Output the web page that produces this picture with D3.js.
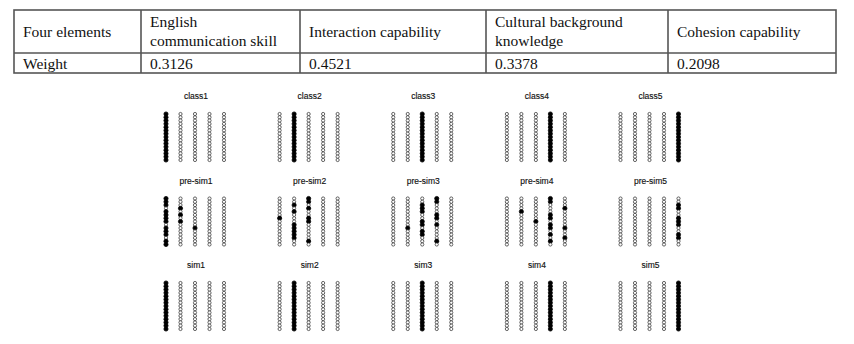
<!DOCTYPE html>
<html><head><meta charset="utf-8">
<script src="https://cdn.jsdelivr.net/npm/d3@7"></script>
<style>html,body{margin:0;padding:0;background:#fff;}svg{display:block;}
.tt{font-family:"Liberation Serif","Times New Roman",Times,serif;font-size:15.5px;fill:#111;}
.pt{font-family:"Liberation Sans",Arial,sans-serif;font-size:8.5px;fill:#111;stroke:#111;stroke-width:0.15px;}
</style>
</head><body>
<script>
// ---- data ----
const tableHeader = [["Four elements"], ["English", "communication skill"], ["Interaction capability"], ["Cultural background", "knowledge"], ["Cohesion capability"]];
const tableRow = ["Weight", "0.3126", "0.4521", "0.3378", "0.2098"];

const classTitles = ["class1", "class2", "class3", "class4", "class5"];
const preSimTitles = ["pre-sim1", "pre-sim2", "pre-sim3", "pre-sim4", "pre-sim5"];
const simTitles = ["sim1", "sim2", "sim3", "sim4", "sim5"];
const nUnits = 15;
const nCols = 5;
// filled column index for class / sim panels (whole column filled)
const classFilledCol = [0, 1, 2, 3, 4];
const simFilledCol = [0, 1, 2, 3, 4];
// filled unit indices per column for pre-sim panels
const preSim1 = [[0,1,2,4,5,6,7,9,10,11,13,14], [3,5,7], [9], [], []];
const preSim2 = [[6], [2,4,8,9,10,11,12], [0,1,3,6,7,13], [], []];
const preSim3 = [[], [9], [2,3,4,7,8,10,11], [0,1,5,6,8,13], []];
const preSim4 = [[], [4], [7], [0,1,5,6,8,9,11,13], [3,9,12]];
const preSim5 = [[], [], [], [], [2,3,6,7,8,11,12]];
const preSimFilled = [preSim1, preSim2, preSim3, preSim4, preSim5];

// ---- build ----
const W = 854, H = 344;
const svg = d3.select("body").append("svg").attr("width", W).attr("height", H);

// table
const colEdges = [14, 141, 300, 486, 668, 836];
const rowEdges = [10, 53, 73];
const tg = svg.append("g");
const lineColor = "#555", lineW = 1.6;
tg.append("rect").attr("x", colEdges[0]).attr("y", rowEdges[0])
  .attr("width", colEdges[5]-colEdges[0]).attr("height", rowEdges[2]-rowEdges[0])
  .attr("fill", "none").attr("stroke", lineColor).attr("stroke-width", lineW);
tg.selectAll("line.v").data(colEdges.slice(1, -1)).join("line")
  .attr("x1", d => d).attr("x2", d => d).attr("y1", rowEdges[0]).attr("y2", rowEdges[2])
  .attr("stroke", lineColor).attr("stroke-width", lineW);
tg.append("line").attr("x1", colEdges[0]).attr("x2", colEdges[5]).attr("y1", rowEdges[1]).attr("y2", rowEdges[1])
  .attr("stroke", lineColor).attr("stroke-width", lineW);
tableHeader.forEach((lines, i) => {
  const cy = (rowEdges[0] + rowEdges[1]) / 2;
  const lh = 19;
  lines.forEach((t, j) => {
    tg.append("text").attr("class", "tt").attr("x", colEdges[i] + 9)
      .attr("y", cy + (j - (lines.length - 1) / 2) * lh)
      .attr("dy", "0.35em").text(t);
  });
});
tableRow.forEach((t, i) => {
  tg.append("text").attr("class", "tt").attr("x", colEdges[i] + 9).attr("y", (rowEdges[1] + rowEdges[2]) / 2 + 1)
    .attr("dy", "0.35em").text(t);
});

// panels
const panelX = d3.scalePoint().domain(d3.range(5)).range([195, 649.5]);
const rowY = d3.scalePoint().domain(d3.range(3)).range([114, 283]);
const colX = d3.scalePoint().domain(d3.range(nCols)).range([-29, 29]);
const unitY = d3.scaleLinear().domain([0, nUnits - 1]).range([0, 46]);

const rows = [
  {titles: classTitles, filled: classFilledCol.map(c => d3.range(nCols).map(k => k === c ? d3.range(nUnits) : []))},
  {titles: preSimTitles, filled: preSimFilled},
  {titles: simTitles, filled: simFilledCol.map(c => d3.range(nCols).map(k => k === c ? d3.range(nUnits) : []))}
];

rows.forEach((row, r) => {
  row.titles.forEach((title, p) => {
    const g = svg.append("g").attr("transform", `translate(${panelX(p)},${rowY(r)})`);
    g.append("text").attr("class", "pt").attr("x", 1).attr("y", -15).attr("text-anchor", "middle").text(title);
    const cells = [];
    for (let c = 0; c < nCols; c++) {
      const f = new Set(row.filled[p][c]);
      for (let u = 0; u < nUnits; u++) cells.push({c, u, on: f.has(u)});
    }
    g.selectAll("circle").data(cells).join("circle")
      .attr("cx", d => colX(d.c)).attr("cy", d => unitY(d.u)).attr("r", d => d.on ? 2.1 : 1.6)
      .attr("fill", d => d.on ? "#000" : "#fff")
      .attr("stroke", d => d.on ? "#000" : "#333").attr("stroke-width", 0.75);
  });
});
</script>
</body></html>
